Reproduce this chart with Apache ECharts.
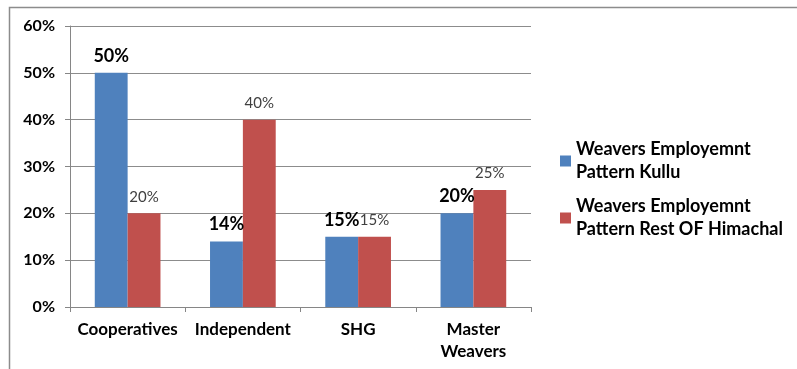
<!DOCTYPE html>
<html>
<head>
<meta charset="utf-8">
<script src="https://cdn.jsdelivr.net/npm/echarts@6/dist/echarts.min.js"></script>
<style>
  html, body { margin: 0; padding: 0; background: #fff; }
  #chart { width: 797px; height: 369px; }
</style>
</head>
<body>
<div id="chart"></div>
<script>
// Employment pattern of weavers: Kullu vs. the rest of Himachal
var categories = ['Cooperatives', 'Independent', 'SHG', 'Master\nWeavers'];
var kullu = [50, 14, 15, 20];
var restOfHimachal = [20, 40, 15, 25];
var seriesNames = ['Weavers Employemnt\nPattern Kullu', 'Weavers Employemnt\nPattern Rest OF Himachal'];
var yTicks = [0, 10, 20, 30, 40, 50, 60];

var FONT = 'Lato, "Open Sans", sans-serif';

var chart = echarts.init(document.getElementById('chart'), null, { renderer: 'canvas' });

chart.setOption({
  backgroundColor: '#ffffff',
  animation: false,
  graphic: [
    {
      type: 'polyline',
      shape: { points: [[9.5, 369], [9.5, 7.5], [797, 7.5]] },
      style: { stroke: '#8c8c8c', lineWidth: 1.5, fill: null },
      silent: true
    }
  ],
  grid: { left: 70, right: 266, top: 26, bottom: 62, containLabel: false },
  legend: {
    orient: 'vertical',
    left: 555,
    top: 133,
    itemWidth: 11,
    itemHeight: 11,
    itemGap: 11,
    icon: 'rect',
    textStyle: { fontFamily: FONT, fontWeight: 'bold', fontSize: 18, color: '#000', lineHeight: 23 },
    data: seriesNames
  },
  xAxis: {
    type: 'category',
    data: categories,
    axisLine: { lineStyle: { color: '#868686', width: 1 } },
    axisTick: { show: true, length: 5, lineStyle: { color: '#868686' } },
    axisLabel: { interval: 0, fontFamily: FONT, fontWeight: 'bold', fontSize: 17, color: '#000', margin: 12, lineHeight: 22 }
  },
  yAxis: {
    type: 'value',
    min: yTicks[0],
    max: yTicks[yTicks.length - 1],
    interval: 10,
    axisLine: { show: true, lineStyle: { color: '#868686', width: 1 } },
    axisTick: { show: true, length: 5, lineStyle: { color: '#868686' } },
    splitLine: { show: true, lineStyle: { color: '#8c8c8c', width: 1 } },
    axisLabel: {
      fontFamily: FONT, fontWeight: 'bold', fontSize: 16, color: '#000', margin: 15,
      formatter: function (v) { return v + '%'; }
    }
  },
  series: [
    {
      name: seriesNames[0],
      type: 'bar',
      data: kullu,
      barGap: '0%',
      barCategoryGap: '43%',
      itemStyle: { color: '#4F81BD' },
      label: {
        show: true, position: 'top', distance: 8,
        fontFamily: FONT, fontWeight: 'bold', fontSize: 18, color: '#000',
        formatter: function (p) { return p.value + '%'; }
      }
    },
    {
      name: seriesNames[1],
      type: 'bar',
      data: restOfHimachal,
      itemStyle: { color: '#C0504D' },
      label: {
        show: true, position: 'top', distance: 9,
        fontFamily: FONT, fontSize: 15, color: '#404040',
        formatter: function (p) { return p.value + '%'; }
      }
    }
  ]
});
</script>
</body>
</html>
